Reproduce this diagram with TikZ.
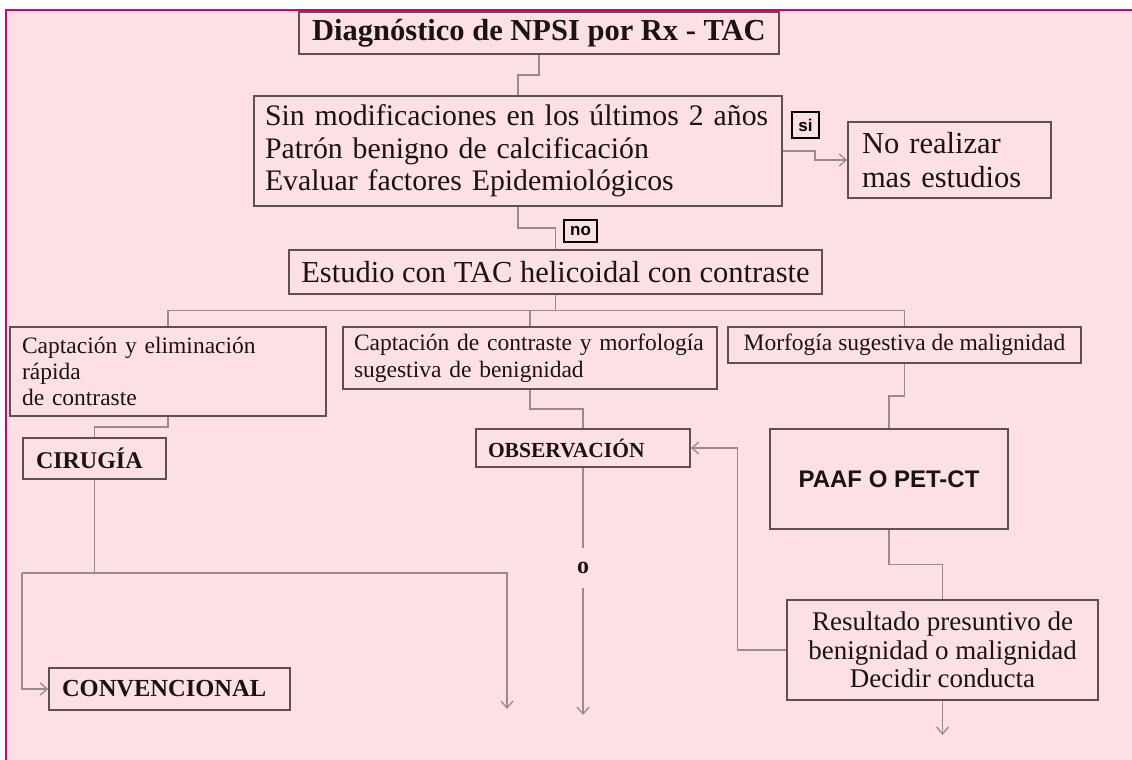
\documentclass[tikz,border=0pt]{standalone}
\usepackage{fontspec}
\setmainfont{Liberation Serif}
\newfontfamily\sansletra{Liberation Sans}
\usetikzlibrary{calc,arrows.meta}
\definecolor{fondo}{RGB}{253,224,227}
\definecolor{marco}{RGB}{214,0,110}
\definecolor{borde}{RGB}{90,82,82}
\definecolor{linea}{RGB}{150,140,140}
\definecolor{texto}{RGB}{25,20,20}
\tikzset{
    caja/.style={draw=borde, line width=1.6pt, text=texto, inner sep=0pt},
    etiq/.style={draw=black, line width=1.1pt, inner sep=0pt, text=black,
        font=\sansletra\bfseries\fontsize{17}{17}\selectfont},
    union/.style={draw=linea, line width=1.3pt},
    flecha/.style={union, -{Straight Barb[length=7pt,width=12pt]}},
}
\begin{document}
\begin{tikzpicture}[x=1pt,y=-1pt]
    \useasboundingbox (0,0) rectangle (1132,760);
    \fill[white] (0,0) rectangle (1132,760);
    \fill[fondo] (6,10) rectangle (1132,760);
    \draw[marco, line width=2pt] (6,760) -- (6,10) -- (1132,10);
    % Diagnostico y criterios
    \node[caja, minimum width=480, minimum height=42, font=\bfseries\fontsize{30.5}{34}\selectfont] (diag) at (539,33) {Diagnóstico de NPSI por Rx - TAC};
    \node[caja, minimum width=528, minimum height=110, text width=506, align=left, font=\fontsize{29.8}{32.5}\selectfont] (crit) at (518,151)
        {Sin modificaciones en los últimos 2 años\\Patrón benigno de calcificación\\Evaluar factores Epidemiológicos};
    \node[caja, minimum width=203, minimum height=76, text width=175, align=left, font=\fontsize{30.5}{34}\selectfont] (nomas) at (949.5,160) {No realizar\\mas estudios};
    \node[caja, minimum width=533, minimum height=44, font=\fontsize{30.5}{34}\selectfont] (est) at (555.5,272) {Estudio con TAC helicoidal con contraste};
    \node[etiq, minimum width=27, minimum height=26] (lsi) at (805.5,125) {si};
    \node[etiq, minimum width=33, minimum height=22] (lno) at (580.5,231) {no};
    % Tres ramas
    \node[caja, minimum width=316, minimum height=89, text width=292, align=left, font=\fontsize{23.5}{26}\selectfont] (capt1) at (168,371.5)
        {Captación y eliminación\\rápida\\de contraste};
    \node[caja, minimum width=374, minimum height=62, text width=352, align=left, font=\fontsize{23.5}{27}\selectfont] (capt2) at (530,358)
        {Captación de contraste y morfología\\sugestiva de benignidad};
    \node[caja, minimum width=353, minimum height=36, font=\fontsize{23.5}{26}\selectfont] (morf) at (904.5,345) {Morfogía sugestiva de malignidad};
    \node[caja, minimum width=143, minimum height=41, text width=117, align=left, font=\bfseries\fontsize{24}{26}\selectfont] (cir) at (94.5,458.5) {CIRUGÍA};
    \node[caja, minimum width=214, minimum height=38, text width=190, align=left, font=\bfseries\fontsize{21.5}{24}\selectfont] (obs) at (583,448) {OBSERVACIÓN};
    \node[caja, minimum width=238, minimum height=100, font=\sansletra\bfseries\fontsize{24}{26}\selectfont] (paaf) at (889,479) {PAAF O PET-CT};
    \node[caja, minimum width=311, minimum height=100, align=center, font=\fontsize{27}{28.5}\selectfont] (res) at (942.5,650)
        {Resultado presuntivo de\\benignidad o malignidad\\Decidir conducta};
    \node[caja, minimum width=241, minimum height=42, text width=215, align=left, font=\bfseries\fontsize{24.5}{26}\selectfont] (conv) at (169.5,689) {CONVENCIONAL};
    \node[text=texto, inner xsep=2pt, inner ysep=14pt, font=\bfseries\fontsize{24}{24}\selectfont] (letra) at (583,568) {o};
    \coordinate (cirA) at (22,573);
    \coordinate (cirB) at (507,573);
    \coordinate (cirfin) at (507,709);
    \coordinate (obsfin) at (583,715);
    \coordinate (resfin) at (942.5,735);
    % Conexiones
    \draw[union] (diag.south) |- ($(diag.south)!0.5!(crit.north)$) -| (crit.north);
    \draw[union] (crit.south) |- ($(crit.south)!0.5!(est.north)$) -| (est.north);
    \draw[flecha] (crit.east) -| ($(crit.east)!0.5!(nomas.west)$) |- (nomas.west);
    \coordinate (bus) at ($(est.south)!0.5!(capt2.north)$);
    \draw[union] (est.south) -- (est.south |- bus);
    \draw[union] (capt1.north) |- (morf.north |- bus) -- (morf.north);
    \draw[union] (capt2.north) -- (capt2.north |- bus);
    \draw[union] (capt1.south) |- ($(capt1.south)!0.5!(cir.north)$) -| (cir.north);
    \draw[union] (capt2.south) |- ($(capt2.south)!0.5!(obs.north)$) -| (obs.north);
    \draw[union] (morf.south) |- ($(morf.south)!0.5!(paaf.north)$) -| (paaf.north);
    \draw[union] (paaf.south) |- ($(paaf.south)!0.5!(res.north)$) -| (res.north);
    \draw[union] (cir.south) -- (cir.south |- cirA);
    \draw[flecha] (cirA) |- (conv.west);
    \draw[flecha] (cirA) -- (cirB) -- (cirfin);
    \draw[union] (obs.south) -- (letra);
    \draw[flecha] (letra) -- (obsfin);
    \draw[flecha] (res.west) -- ++(-49,0) |- (obs.east);
    \draw[flecha] (res.south) -- (resfin);
\end{tikzpicture}
\end{document}
